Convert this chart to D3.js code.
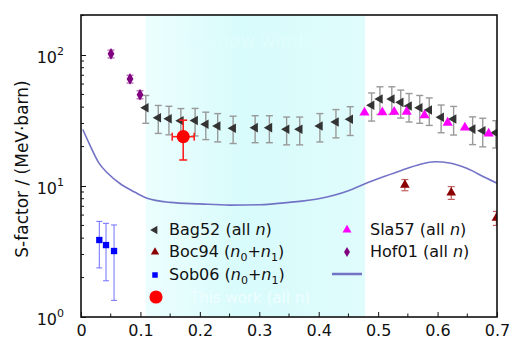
<!DOCTYPE html>
<html>
<head>
<meta charset="utf-8">
<script src="https://cdn.jsdelivr.net/npm/d3@7"></script>
<style>
  body { margin: 0; background: #fff; }
  svg text { font-family: "DejaVu Sans", sans-serif; }
</style>
</head>
<body>
<svg id="chart" width="510" height="340"></svg>
<script>
// --- Data ---
const xTicks = [0, 0.1, 0.2, 0.3, 0.4, 0.5, 0.6, 0.7];
const xTickLabels = ['0', '0.1', '0.2', '0.3', '0.4', '0.5', '0.6', '0.7'];
const yTicks = [1, 10, 100];
const yTickExps = ['0', '1', '2'];

const gamowWindow = [0.109, 0.478];

// Bag52 (all n)
const bagX = [0.109, 0.130, 0.148, 0.168, 0.192, 0.210, 0.230, 0.256, 0.293, 0.317, 0.346, 0.368, 0.402, 0.429,
  0.453, 0.489, 0.503, 0.523, 0.538, 0.552, 0.570, 0.586, 0.606, 0.627, 0.659, 0.676, 0.698];
const bagS = [39.6, 33.2, 32.6, 31.5, 31.6, 29.6, 28.7, 27.6, 27.9, 27.9, 27.1, 27.1, 28.7, 30.8,
  32.3, 41.3, 46.2, 46.2, 43.5, 40.8, 39.6, 38.0, 33.5, 32.5, 27.2, 26.4, 25.5];
const bagErr = [9.5, 8, 8, 7.5, 7.5, 7, 7, 6.5, 6.5, 6.5, 6.5, 6.5, 7, 7.5,
  8, 10, 11, 11, 10.5, 10, 9.5, 9, 8, 8, 6.5, 6.5, 6];

// Sla57 (all n)
const slaX = [0.477, 0.507, 0.527, 0.548, 0.578, 0.617, 0.646, 0.686];
const slaS = [36.3, 36.5, 36.8, 36.8, 34.6, 30.4, 27.9, 25.1];

// Hof01 (all n)
const hofX = [0.0505, 0.0825, 0.0993];
const hofS = [102, 65.6, 49.8];
const hofErr = [7, 4.5, 3.5];

// Boc94 (n0+n1)
const bocX = [0.545, 0.623, 0.699];
const bocS = [10.2, 8.9, 5.7];
const bocErr = [1.0, 1.0, 0.7];

// Sob06 (n0+n1)
const sobX = [0.0308, 0.0421, 0.0556];
const sobS = [3.87, 3.54, 3.19];
const sobErr = [1.5, 1.65, 1.85];

// This work
const workX = [0.172];
const workS = [23.8];
const workXErr = [0.0185];
const workErr = [8];

// Theory curve
const curveX = [0.003, 0.015, 0.03, 0.045, 0.066, 0.09, 0.11, 0.15, 0.2, 0.25, 0.3, 0.35, 0.4, 0.45,
  0.478, 0.51, 0.54, 0.57, 0.596, 0.62, 0.65, 0.68, 0.7];
const curveS = [27, 20.5, 15, 12.5, 10.4, 9.0, 8.1, 7.5, 7.3, 7.15, 7.2, 7.5, 8.0, 9.2,
  10.4, 11.8, 13.2, 14.6, 15.3, 15.0, 13.6, 11.6, 10.5];

// --- Layout ---
const svg = d3.select('#chart');
const mLeft = 81, mRight = 497, mTop = 15, mBottom = 317;
const FONT = '"DejaVu Sans", sans-serif';
const FS = 16;
const SUB = 11;

const x = d3.scaleLinear().domain([0, 0.7]).range([mLeft, mRight]);
const y = d3.scaleLog().domain([1, 202]).range([mBottom, mTop]);

const zip = (xs, ys) => xs.map((v, i) => ({ x: v, s: ys[i], i }));

// Gamow window band
const defs = svg.append('defs');
const grad = defs.append('linearGradient').attr('id', 'gamow');
grad.append('stop').attr('offset', '0%').attr('stop-color', '#ecfefe');
grad.append('stop').attr('offset', '45%').attr('stop-color', '#d8fbfb');
grad.append('stop').attr('offset', '100%').attr('stop-color', '#e0fcfc');

defs.append('clipPath').attr('id', 'plot-clip')
  .append('rect')
  .attr('x', mLeft).attr('y', mTop)
  .attr('width', mRight - mLeft).attr('height', mBottom - mTop);

svg.append('rect')
  .attr('x', x(gamowWindow[0]))
  .attr('y', mTop)
  .attr('width', x(gamowWindow[1]) - x(gamowWindow[0]))
  .attr('height', mBottom - mTop)
  .attr('fill', 'url(#gamow)');

svg.append('text')
  .attr('x', 258).attr('y', 47)
  .attr('text-anchor', 'middle')
  .attr('font-size', 18)
  .attr('fill', '#e0fdfd')
  .text('Gamow window');

const plot = svg.append('g').attr('clip-path', 'url(#plot-clip)');

// Theory curve
plot.append('path')
  .datum(zip(curveX, curveS))
  .attr('fill', 'none')
  .attr('stroke', '#7373c6')
  .attr('stroke-width', 1.6)
  .attr('d', d3.line().x(d => x(d.x)).y(d => y(d.s)).curve(d3.curveMonotoneX));

// --- Error bars ---
function errorBars(data, err, color, cap, width) {
  const g = plot.append('g').attr('stroke', color).attr('stroke-width', width).attr('fill', 'none');
  data.forEach(d => {
    const y1 = y(d.s + err[d.i]), y2 = y(d.s - err[d.i]);
    g.append('line').attr('x1', x(d.x)).attr('x2', x(d.x)).attr('y1', y1).attr('y2', y2);
    g.append('line').attr('x1', x(d.x) - cap).attr('x2', x(d.x) + cap).attr('y1', y1).attr('y2', y1);
    g.append('line').attr('x1', x(d.x) - cap).attr('x2', x(d.x) + cap).attr('y1', y2).attr('y2', y2);
  });
}

function markers(data, type, size, color, rotate) {
  plot.append('g').selectAll('path')
    .data(data)
    .enter().append('path')
    .attr('d', d3.symbol().type(type).size(size))
    .attr('transform', d => `translate(${x(d.x)},${y(d.s)}) rotate(${rotate || 0})`)
    .attr('fill', color);
}

const bag = zip(bagX, bagS);
const sla = zip(slaX, slaS);
const hof = zip(hofX, hofS);
const boc = zip(bocX, bocS);
const sob = zip(sobX, sobS);
const work = zip(workX, workS);

errorBars(bag, bagErr, '#999', 3.5, 1.4);
markers(bag, d3.symbolTriangle, 40, '#333', -90);
markers(sla, d3.symbolTriangle, 45, '#ff00ff', 0);

errorBars(hof, hofErr, '#b060b0', 3.5, 1.2);
markers(hof, d3.symbolDiamond, 40, '#800080', 0);

errorBars(boc, bocErr, '#c06060', 3.5, 1.2);
markers(boc, d3.symbolTriangle, 40, '#8b0000', 0);

errorBars(sob, sobErr, '#6f6fff', 3, 1);
markers(sob, d3.symbolSquare, 40, '#0000ff', 0);

// this work: x and y error bars
errorBars(work, workErr, '#ff2020', 4, 1.6);
work.forEach(d => {
  const g = plot.append('g').attr('stroke', '#ff2020').attr('stroke-width', 1.6);
  const x1 = x(d.x - workXErr[d.i]), x2 = x(d.x + workXErr[d.i]);
  g.append('line').attr('x1', x1).attr('x2', x2).attr('y1', y(d.s)).attr('y2', y(d.s));
  g.append('line').attr('x1', x1).attr('x2', x1).attr('y1', y(d.s) - 4).attr('y2', y(d.s) + 4);
  g.append('line').attr('x1', x2).attr('x2', x2).attr('y1', y(d.s) - 4).attr('y2', y(d.s) + 4);
});
markers(work, d3.symbolCircle, 135, '#ff0000', 0);

// --- Axes ---
const xAxis = d3.axisBottom(x)
  .tickValues(xTicks)
  .tickSize(-5)
  .tickPadding(8)
  .tickFormat((d, i) => xTickLabels[i]);

const gx = svg.append('g').attr('transform', `translate(0,${mBottom})`).call(xAxis);
gx.attr('font-family', FONT);
gx.select('.domain').remove();
gx.selectAll('text').attr('font-size', FS).attr('fill', '#111');
gx.selectAll('line').attr('stroke', '#111');

// x minor ticks
svg.append('g').selectAll('line')
  .data(d3.range(0.05, 0.7, 0.1))
  .enter().append('line')
  .attr('x1', d => x(d)).attr('x2', d => x(d))
  .attr('y1', mBottom).attr('y2', mBottom - 3.5)
  .attr('stroke', '#111');

const yAxis = d3.axisLeft(y)
  .tickValues(yTicks)
  .tickSize(-5)
  .tickFormat('');
const gy = svg.append('g').attr('transform', `translate(${mLeft},0)`).call(yAxis);
gy.select('.domain').remove();
gy.selectAll('line').attr('stroke', '#111');

// y minor ticks
const yMinor = [];
[1, 10, 100].forEach(base => d3.range(2, 10).forEach(k => { if (base * k < 202) yMinor.push(base * k); }));
svg.append('g').selectAll('line')
  .data(yMinor)
  .enter().append('line')
  .attr('x1', mLeft).attr('x2', mLeft + 3)
  .attr('y1', d => y(d)).attr('y2', d => y(d))
  .attr('stroke', '#111');

// y tick labels 10^n
const yLab = svg.append('g').selectAll('text')
  .data(yTicks)
  .enter().append('text')
  .attr('x', 64)
  .attr('y', d => y(d) + 8)
  .attr('text-anchor', 'end')
  .attr('font-size', FS)
  .attr('fill', '#111')
  .text('10');
yLab.append('tspan')
  .attr('font-size', SUB)
  .attr('dy', -8)
  .text((d, i) => yTickExps[i]);

// Frame
svg.append('rect')
  .attr('x', mLeft).attr('y', mTop)
  .attr('width', mRight - mLeft).attr('height', mBottom - mTop)
  .attr('fill', 'none')
  .attr('stroke', '#111')
  .attr('stroke-width', 1.6);

// Axis title
svg.append('text')
  .attr('transform', `translate(28,169) rotate(-90)`)
  .attr('text-anchor', 'middle')
  .attr('font-size', 17)
  .attr('fill', '#111')
  .text('S-factor / (MeV·barn)');

// --- Legend ---
const legend = svg.append('g');

function legendText(xPos, yPos, name, sub) {
  const t = legend.append('text')
    .attr('x', xPos).attr('y', yPos)
    .attr('font-size', FS)
    .attr('fill', '#111');
  t.append('tspan').text(name + ' (');
  if (sub) {
    t.append('tspan').attr('font-style', 'italic').text('n');
    t.append('tspan').attr('font-size', SUB).attr('dy', 4).text('0');
    t.append('tspan').attr('dy', -4).text('+');
    t.append('tspan').attr('font-style', 'italic').text('n');
    t.append('tspan').attr('font-size', SUB).attr('dy', 4).text('1');
    t.append('tspan').attr('dy', -4).text(')');
  } else {
    t.append('tspan').text('all ');
    t.append('tspan').attr('font-style', 'italic').text('n');
    t.append('tspan').text(')');
  }
}

function legendMarker(xPos, yPos, type, size, color, rotate) {
  legend.append('path')
    .attr('d', d3.symbol().type(type).size(size))
    .attr('transform', `translate(${xPos},${yPos}) rotate(${rotate || 0})`)
    .attr('fill', color);
}

legendMarker(155, 230, d3.symbolTriangle, 30, '#333', -90);
legendText(169, 235, 'Bag52', false);
legendMarker(155, 252, d3.symbolTriangle, 30, '#8b0000', 0);
legendText(169, 257, 'Boc94', true);
legendMarker(155, 275, d3.symbolSquare, 30, '#0000ff', 0);
legendText(169, 280, 'Sob06', true);
legendMarker(156, 297, d3.symbolCircle, 135, '#ff0000', 0);
legend.append('text')
  .attr('x', 190).attr('y', 303)
  .attr('font-size', 15)
  .attr('fill', '#eefefe')
  .text('This work (all n)');

legendMarker(347, 230, d3.symbolTriangle, 35, '#ff00ff', 0);
legendText(370, 235, 'Sla57', false);
legendMarker(347, 252, d3.symbolDiamond, 30, '#800080', 0);
legendText(370, 257, 'Hof01', false);
legend.append('line')
  .attr('x1', 332).attr('x2', 362)
  .attr('y1', 274).attr('y2', 274)
  .attr('stroke', '#7373c6')
  .attr('stroke-width', 2.5);
</script>
</body>
</html>
